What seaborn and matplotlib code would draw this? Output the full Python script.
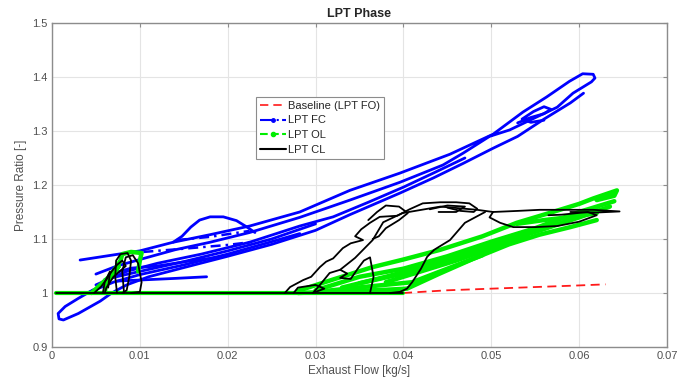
import matplotlib
matplotlib.use("Agg")
import matplotlib.pyplot as plt
from matplotlib.lines import Line2D
from matplotlib.ticker import FormatStrFormatter
import seaborn as sns
import pandas as pd

# ---- data (Exhaust Flow [kg/s], Pressure Ratio [-]) ----
baseline = [(0.0005, 1.0), (0.020, 1.0), (0.040, 1.0), (0.045, 1.005), (0.050, 1.008),
            (0.055, 1.011), (0.060, 1.014), (0.063, 1.016)]

fc_upper = [(0.0032, 1.061), (0.0060, 1.068), (0.0100, 1.078), (0.0138, 1.094), (0.0180, 1.108),
            (0.0225, 1.124), (0.0282, 1.150), (0.0339, 1.190), (0.0396, 1.222), (0.0453, 1.257),
            (0.0502, 1.294), (0.0536, 1.335), (0.0563, 1.363), (0.0589, 1.392), (0.0604, 1.406),
            (0.0616, 1.405), (0.0618, 1.398), (0.0614, 1.391), (0.0604, 1.381), (0.0593, 1.370),
            (0.0575, 1.344), (0.0544, 1.320), (0.0521, 1.302), (0.0498, 1.290), (0.0468, 1.259),
            (0.0445, 1.237), (0.0396, 1.205), (0.0339, 1.172), (0.0282, 1.140), (0.0225, 1.112),
            (0.0180, 1.094), (0.0140, 1.080), (0.0100, 1.062), (0.0074, 1.050), (0.0050, 1.035)]
fc_lower = [(0.0047, 1.006), (0.0030, 0.990), (0.0015, 0.975), (0.0007, 0.962), (0.0008, 0.952),
            (0.0013, 0.950), (0.0030, 0.962), (0.0055, 0.985), (0.0068, 1.000), (0.0085, 1.015),
            (0.0110, 1.030), (0.0150, 1.047), (0.0200, 1.068), (0.0250, 1.090), (0.0300, 1.116),
            (0.0339, 1.145), (0.0396, 1.185), (0.0434, 1.213), (0.0468, 1.240), (0.0502, 1.268),
            (0.0530, 1.290), (0.0560, 1.322), (0.0590, 1.352), (0.0605, 1.370)]
fc_band2 = [(0.0050, 1.015), (0.0085, 1.040), (0.0120, 1.055), (0.0170, 1.072), (0.0225, 1.094),
            (0.0282, 1.124), (0.0320, 1.141), (0.0360, 1.168), (0.0400, 1.196), (0.0434, 1.222),
            (0.0470, 1.250)]
fc_band3 = [(0.0060, 1.025), (0.0100, 1.040), (0.0150, 1.058), (0.0200, 1.078), (0.0250, 1.100),
            (0.0300, 1.128)]
fc_band4 = [(0.0040, 1.000), (0.0070, 1.020), (0.0100, 1.034), (0.0150, 1.052), (0.0200, 1.072),
            (0.0250, 1.095), (0.0282, 1.110)]
fc_band5 = [(0.0065, 1.034), (0.0090, 1.046), (0.0120, 1.050), (0.0160, 1.060), (0.0190, 1.066)]
fc_branch = [(0.0074, 1.022), (0.0100, 1.024), (0.0140, 1.027), (0.0176, 1.030)]
fc_bump = [(0.0138, 1.094), (0.0148, 1.105), (0.0158, 1.122), (0.0168, 1.135), (0.0180, 1.141),
           (0.0195, 1.141), (0.0210, 1.134), (0.0222, 1.122), (0.0231, 1.112)]
fc_knot = [(0.0530, 1.315), (0.0545, 1.325), (0.0560, 1.332), (0.0568, 1.340), (0.0560, 1.345),
           (0.0548, 1.336), (0.0535, 1.322), (0.0545, 1.316), (0.0560, 1.320)]
fc_dash1 = [(0.0142, 1.098), (0.0180, 1.104), (0.0225, 1.115)]
fc_dash2 = [(0.0104, 1.076), (0.0150, 1.082), (0.0200, 1.089), (0.0230, 1.095)]

ol_flat = [(0.0005, 1.0), (0.020, 1.0), (0.040, 1.0)]
ol_left = [(0.0045, 1.000), (0.0055, 1.015), (0.0065, 1.030), (0.0072, 1.045), (0.0078, 1.060),
           (0.0080, 1.072), (0.0090, 1.076), (0.0102, 1.074), (0.0100, 1.060), (0.0098, 1.040)]
ol_left2 = [(0.0060, 1.000), (0.0062, 1.020), (0.0070, 1.035), (0.0076, 1.050), (0.0068, 1.030)]
ol_s1 = [(0.0280, 1.000), (0.0330, 1.003), (0.0380, 1.006), (0.0404, 1.008), (0.0440, 1.035),
         (0.0479, 1.063), (0.0520, 1.090), (0.0555, 1.108), (0.0590, 1.122), (0.0620, 1.135)]
ol_s2 = [(0.0280, 1.004), (0.0320, 1.025), (0.0365, 1.048), (0.0400, 1.062), (0.0442, 1.080),
         (0.0490, 1.105), (0.0529, 1.130), (0.0570, 1.150), (0.0600, 1.165), (0.0616, 1.175),
         (0.0643, 1.190), (0.0640, 1.180), (0.0620, 1.172)]
ol_s3 = [(0.0300, 1.005), (0.0350, 1.030), (0.0400, 1.045), (0.0450, 1.068), (0.0500, 1.095),
         (0.0550, 1.120), (0.0600, 1.150), (0.0640, 1.170)]
ol_s4 = [(0.0380, 1.020), (0.0420, 1.040), (0.0460, 1.060), (0.0500, 1.083), (0.0540, 1.103)]
ol_s5 = [(0.0529, 1.128), (0.0560, 1.135), (0.0597, 1.142), (0.0620, 1.148)]
ol_s6 = [(0.0330, 1.010), (0.0380, 1.030), (0.0430, 1.052), (0.0480, 1.078), (0.0530, 1.105),
         (0.0580, 1.130), (0.0620, 1.155)]
ol_s7 = [(0.0350, 1.018), (0.0400, 1.036), (0.0450, 1.058), (0.0500, 1.088), (0.0550, 1.113),
         (0.0600, 1.140), (0.0635, 1.160)]
ol_s8 = [(0.0300, 1.002), (0.0360, 1.012), (0.0410, 1.020), (0.0450, 1.045), (0.0490, 1.070)]

cl_flat = [(0.0005, 1.0), (0.020, 1.0), (0.040, 1.0)]
cl_loop1 = [(0.0074, 1.000), (0.0072, 1.030), (0.0073, 1.060), (0.0078, 1.072), (0.0086, 1.074),
            (0.0090, 1.060), (0.0088, 1.030), (0.0085, 1.005), (0.0080, 1.000)]
cl_loop2 = [(0.0082, 1.000), (0.0080, 1.040), (0.0084, 1.066), (0.0092, 1.070), (0.0098, 1.055),
            (0.0102, 1.020), (0.0100, 1.002), (0.0090, 1.000)]
cl_loop3 = [(0.0048, 1.000), (0.0056, 1.012), (0.0062, 1.025), (0.0068, 1.040), (0.0074, 1.052),
            (0.0080, 1.060), (0.0084, 1.050), (0.0070, 1.030), (0.0062, 1.010), (0.0060, 1.000)]
cl_loop4 = [(0.0058, 1.000), (0.0060, 1.020), (0.0066, 1.040), (0.0064, 1.010)]
cl_rise = [(0.0265, 1.000), (0.0271, 1.011), (0.0286, 1.024), (0.0295, 1.030), (0.0305, 1.048),
           (0.0312, 1.058), (0.0320, 1.064), (0.0331, 1.083), (0.0340, 1.092), (0.0354, 1.098),
           (0.0345, 1.105), (0.0352, 1.118), (0.0362, 1.130), (0.0373, 1.141), (0.0393, 1.143),
           (0.0407, 1.155), (0.0422, 1.166), (0.0442, 1.168), (0.0460, 1.168), (0.0475, 1.166),
           (0.0484, 1.156), (0.0480, 1.150), (0.0465, 1.152), (0.0450, 1.158)]
cl_top = [(0.0399, 1.148), (0.0442, 1.160), (0.0484, 1.154), (0.0502, 1.150), (0.0530, 1.152),
          (0.0555, 1.154), (0.0590, 1.154), (0.0616, 1.154), (0.0646, 1.151), (0.0620, 1.149),
          (0.0590, 1.150)]
cl_tail = [(0.0502, 1.150), (0.0498, 1.140), (0.0510, 1.130), (0.0525, 1.122), (0.0550, 1.122),
           (0.0575, 1.124), (0.0600, 1.132), (0.0620, 1.144), (0.0610, 1.150), (0.0580, 1.145),
           (0.0565, 1.144)]
cl_down = [(0.0493, 1.150), (0.0470, 1.130), (0.0453, 1.098), (0.0435, 1.080), (0.0427, 1.067),
           (0.0420, 1.045), (0.0410, 1.020), (0.0404, 1.008), (0.0396, 1.002), (0.0385, 1.000)]
cl_pocket = [(0.0297, 1.000), (0.0305, 1.015), (0.0316, 1.037), (0.0328, 1.043), (0.0336, 1.036),
             (0.0328, 1.028), (0.0340, 1.026), (0.0348, 1.045), (0.0355, 1.060), (0.0362, 1.066),
             (0.0366, 1.030), (0.0362, 1.000)]
cl_contour = [(0.0328, 1.043), (0.0345, 1.065), (0.0365, 1.098), (0.0377, 1.131), (0.0399, 1.148)]
cl_small = [(0.0275, 1.000), (0.0280, 1.010), (0.0300, 1.015), (0.0310, 1.008), (0.0300, 1.002)]
cl_blob = [(0.0360, 1.135), (0.0370, 1.150), (0.0380, 1.162), (0.0395, 1.160), (0.0405, 1.148),
           (0.0395, 1.135), (0.0380, 1.120), (0.0372, 1.105), (0.0365, 1.100)]
cl_inner = [(0.0430, 1.155), (0.0450, 1.162), (0.0470, 1.160), (0.0460, 1.150), (0.0440, 1.150)]

series = {
    'Baseline (LPT FO)': {'base': baseline},
    'LPT FC': {'upper': fc_upper, 'lower': fc_lower, 'band2': fc_band2, 'band3': fc_band3,
               'band4': fc_band4, 'band5': fc_band5, 'branch': fc_branch, 'bump': fc_bump,
               'knot': fc_knot},
    'LPT FC dash': {'d1': fc_dash1, 'd2': fc_dash2},
    'LPT OL': {'left': ol_left, 'left2': ol_left2, 's1': ol_s1, 's2': ol_s2, 's3': ol_s3,
               's4': ol_s4, 's5': ol_s5, 's6': ol_s6, 's7': ol_s7, 's8': ol_s8},
    'LPT OL flat': {'flat': ol_flat},
    'LPT CL': {'flat': cl_flat, 'l1': cl_loop1, 'l2': cl_loop2, 'l3': cl_loop3, 'l4': cl_loop4,
               'rise': cl_rise, 'top': cl_top, 'tail': cl_tail, 'down': cl_down,
               'pocket': cl_pocket, 'contour': cl_contour, 'small': cl_small, 'blob': cl_blob,
               'inner': cl_inner},
}

rows = []
for run, segs in series.items():
    for seg, pts in segs.items():
        for x, y in pts:
            rows.append({'run': run, 'seg': seg, 'flow': x, 'pr': y})
df = pd.DataFrame(rows)

sns.set_theme(style="whitegrid")
plt.rcParams['font.family'] = ['Liberation Sans', 'DejaVu Sans']

fig = plt.figure(figsize=(6.93, 3.87), dpi=100)
ax = fig.add_axes([0.075, 0.1034, 0.8875, 0.8372])

styles = {
    'Baseline (LPT FO)': dict(color='#ff1a1a', lw=1.3, linestyle=(0, (5, 3))),
    'LPT FC': dict(color='#0000ff', lw=2.0, linestyle='-'),
    'LPT FC dash': dict(color='#0000ff', lw=1.8, linestyle=(0, (4, 2, 1, 2))),
    'LPT OL': dict(color='#00ee00', lw=3.2, linestyle='-'),
    'LPT OL flat': dict(color='#00ee00', lw=3.0, linestyle='-'),
    'LPT CL': dict(color='black', lw=1.3, linestyle='-'),
}
for run, st in styles.items():
    sub = df[df['run'] == run]
    sns.lineplot(data=sub, x='flow', y='pr', units='seg', estimator=None, sort=False,
                 legend=False, ax=ax, solid_joinstyle='round', solid_capstyle='round', **st)

ax.set_xlim(0, 0.07)
ax.set_ylim(0.9, 1.5)
ax.set_xticks([0, 0.01, 0.02, 0.03, 0.04, 0.05, 0.06, 0.07])
ax.set_yticks([0.9, 1.0, 1.1, 1.2, 1.3, 1.4, 1.5])
ax.xaxis.set_major_formatter(FormatStrFormatter('%g'))
ax.yaxis.set_major_formatter(FormatStrFormatter('%g'))
ax.grid(True, color='#e4e4e4', lw=0.8)
for s in ax.spines.values():
    s.set_visible(True)
    s.set_color('#8c8c8c')
    s.set_linewidth(1.0)
ax.tick_params(axis='both', direction='in', length=3, width=0.8, color='#8c8c8c',
               labelsize=8, labelcolor='#505050', top=True, right=True, pad=3)

ax.set_title('LPT Phase', fontsize=9, fontweight='bold', pad=4)
ax.set_xlabel('Exhaust Flow [kg/s]', fontsize=8.5, color='#505050', labelpad=3)
ax.set_ylabel('Pressure Ratio [-]', fontsize=8.5, color='#505050', labelpad=4)

handles = [
    Line2D([], [], color='#ff1a1a', lw=1.2, linestyle=(0, (5, 3))),
    Line2D([], [], color='#0000ff', lw=1.5, linestyle='-.', marker='.', markersize=5),
    Line2D([], [], color='#00ee00', lw=1.5, linestyle='--', marker='.', markersize=6),
    Line2D([], [], color='black', lw=1.5, linestyle='-'),
]
labels = ['Baseline (LPT FO)', 'LPT FC', 'LPT OL', 'LPT CL']
leg = ax.legend(handles, labels, loc='upper left', bbox_to_anchor=(0.332, 0.772),
                fontsize=8, numpoints=1, fancybox=False, framealpha=1, edgecolor='#8c8c8c',
                borderpad=0.35, labelspacing=0.42, handlelength=2.3, handletextpad=0.2,
                borderaxespad=0)
leg.get_frame().set_linewidth(0.8)

fig.savefig('out.png', dpi=100)
